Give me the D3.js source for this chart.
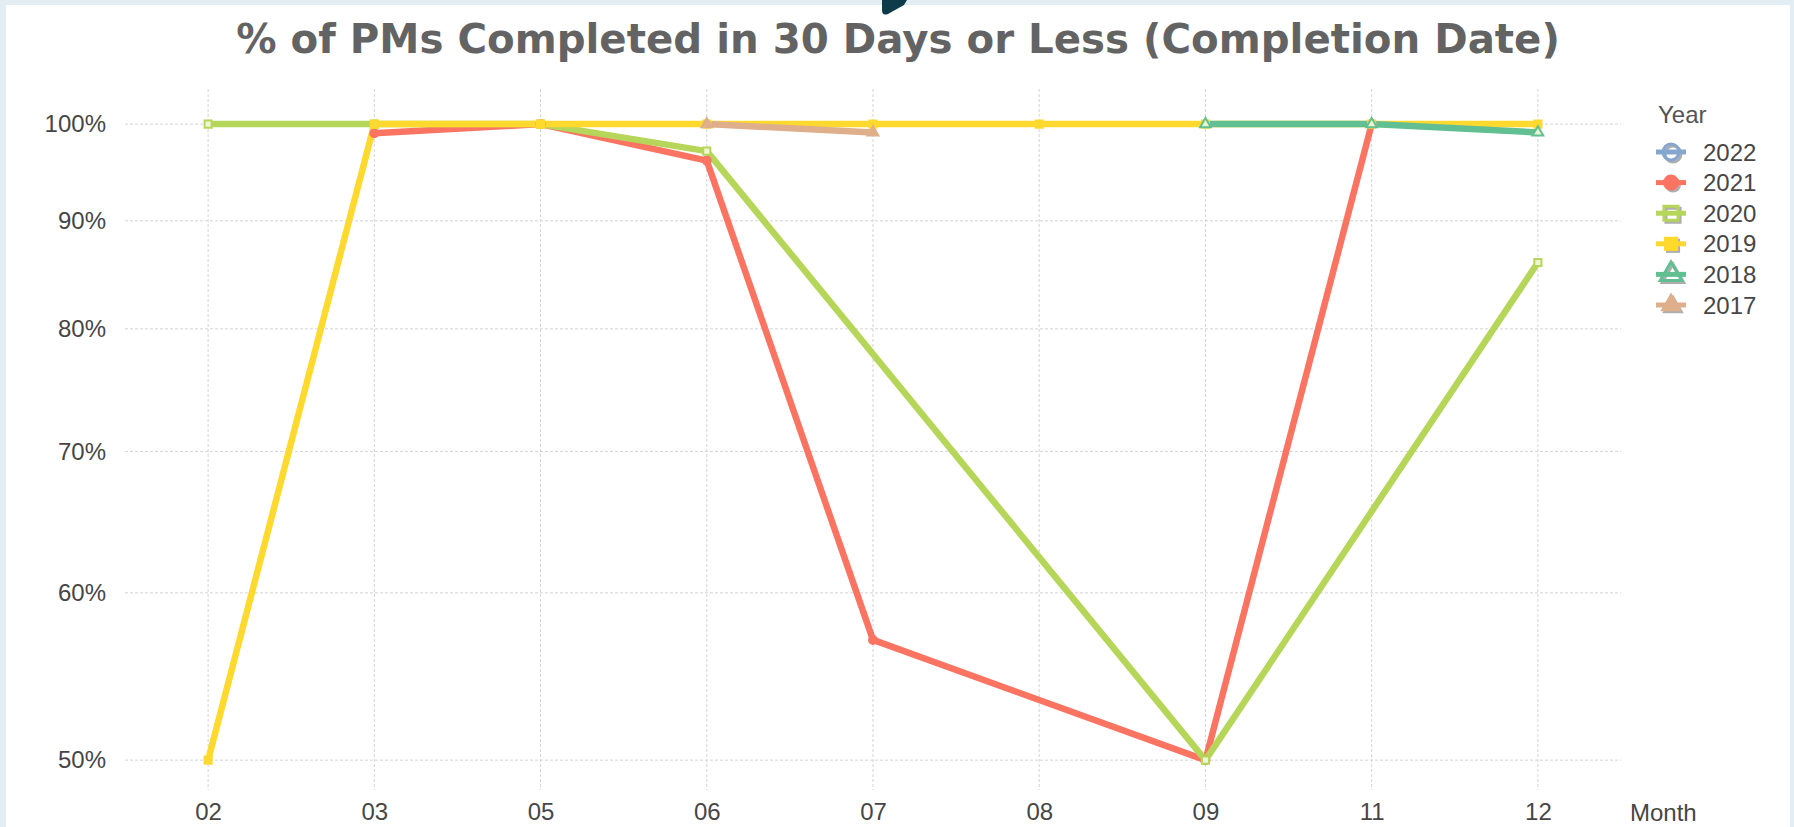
<!DOCTYPE html>
<html><head><meta charset="utf-8">
<script src="https://cdnjs.cloudflare.com/ajax/libs/d3/7.8.5/d3.min.js"></script>
<style>
html,body{margin:0;padding:0;background:#e3edf4;}
svg{display:block;}
</style></head>
<body>
<svg id="chart" width="1794" height="827"></svg>
<script>
// ---- data ----
const months = ["02","03","05","06","07","08","09","11","12"];
const years  = ["2022","2021","2020","2019","2018","2017"];
const v2022 = [null,null,null,null,null,null,null,null,null];
const v2021 = [null,0.990,1.000,0.961,0.570,null,0.500,1.000,null];
const v2020 = [1.000,1.000,1.000,0.971,null,null,0.500,null,0.860];
const v2019 = [0.500,1.000,1.000,1.000,1.000,1.000,1.000,1.000,1.000];
const v2018 = [null,null,null,null,null,null,1.000,1.000,0.991];
const v2017 = [null,null,null,1.000,0.991,null,null,null,null];
const yTicks = [0.5,0.6,0.7,0.8,0.9,1.0];
const titleText = "% of PMs Completed in 30 Days or Less (Completion Date)";

const seriesValues = {"2022":v2022,"2021":v2021,"2020":v2020,"2019":v2019,"2018":v2018,"2017":v2017};
const colors = {"2022":"#86a6cf","2021":"#fb7462","2020":"#b5d658","2019":"#ffd92e","2018":"#62bf91","2017":"#dfae8a"};
const lightFill = {"2022":"#e6eef7","2021":"#fb7462","2020":"#eef6d6","2019":"#ffd92e","2018":"#e9f5d0","2017":"#dfae8a"};
const shapes = {"2022":"circleOpen","2021":"circle","2020":"squareOpen","2019":"square","2018":"triangleOpen","2017":"triangle"};

(function(){
const svg = d3.select("#chart");
// panel
svg.append("rect").attr("x",6).attr("y",5).attr("width",1784).attr("height",822).attr("fill","#ffffff");
svg.append("path").attr("d","M882,0 L882,10 Q882,16 888,14 L904,5 L907,0 Z").attr("fill","#0e3b4a");

// title
svg.append("text").attr("x",898).attr("y",53).attr("text-anchor","middle")
  .attr("font-family","DejaVu Sans").attr("font-weight","bold").attr("font-size",40.3)
  .attr("fill","#636363").text(titleText);

const pLeft = 125, pRight = 1621, pTop = 89, pBottom = 790;
const x = d3.scalePoint().domain(months).range([pLeft,pRight]).padding(0.5);
const y = d3.scaleLog().domain([0.484,1.039]).range([pBottom,pTop]);

const font = "Liberation Sans, Arial, sans-serif";
// grid
const grid = svg.append("g");
grid.selectAll("line.h").data(yTicks).enter().append("line")
  .attr("x1",pLeft).attr("x2",pRight).attr("y1",d=>y(d)).attr("y2",d=>y(d))
  .attr("stroke","#d4d4d4").attr("stroke-width",1).attr("stroke-dasharray","3,2");
grid.selectAll("line.v").data(months).enter().append("line")
  .attr("x1",d=>x(d)).attr("x2",d=>x(d)).attr("y1",pTop).attr("y2",pBottom)
  .attr("stroke","#d4d4d4").attr("stroke-width",1).attr("stroke-dasharray","3,2");

// axes
const yAxis = svg.append("g").attr("transform",`translate(${pLeft},0)`)
  .call(d3.axisLeft(y).tickValues(yTicks).tickFormat(d=>Math.round(d*100)+"%").tickSize(0).tickPadding(19));
const xAxis = svg.append("g").attr("transform",`translate(0,${pBottom})`)
  .call(d3.axisBottom(x).tickSize(0).tickPadding(13));
[yAxis,xAxis].forEach(g=>{
  g.select(".domain").remove();
  g.selectAll("text").attr("font-family",font).attr("font-size",24).attr("fill","#464646");
});
svg.append("text").attr("x",1630).attr("y",821).attr("font-family",font).attr("font-size",24)
  .attr("fill","#464646").text("Month");

// lines
const line = d3.line().x(d=>x(d.m)).y(d=>y(d.v));
function symbolPath(shape,size){
  const t = shape.replace("Open","");
  const sym = t==="circle"?d3.symbolCircle:(t==="square"?d3.symbolSquare:d3.symbolTriangle);
  return d3.symbol().type(sym).size(size)();
}
const linesG = svg.append("g");
years.forEach(yr=>{
  const pts = months.map((m,i)=>({m:m,v:seriesValues[yr][i]})).filter(d=>d.v!=null);
  if(pts.length<1) return;
  linesG.append("path").datum(pts).attr("d",line).attr("fill","none")
    .attr("stroke",colors[yr]).attr("stroke-width",6.5).attr("stroke-linejoin","round").attr("stroke-linecap","round");
});
const markG = svg.append("g");
years.forEach(yr=>{
  const pts = months.map((m,i)=>({m:m,v:seriesValues[yr][i]})).filter(d=>d.v!=null);
  markG.selectAll(null).data(pts).enter().append("path")
    .attr("transform",d=>`translate(${x(d.m)},${y(d.v)})`)
    .attr("d",symbolPath(shapes[yr],50))
    .attr("fill",lightFill[yr]).attr("stroke",colors[yr]).attr("stroke-width",2);
});

// legend
const lg = svg.append("g");
lg.append("text").attr("x",1658).attr("y",123).attr("font-family",font).attr("font-size",24)
  .attr("fill","#555").text("Year");
years.forEach((yr,i)=>{
  const cy = 152 + i*30.6;
  const g = lg.append("g").attr("transform",`translate(1671,${cy})`);
  const shape = shapes[yr];
  const open = shape.includes("Open");
  g.append("path").attr("d",symbolPath(shape,200)).attr("transform","translate(2,2)")
    .attr("fill",open?"none":"#9a9a9a").attr("stroke","#9a9a9a").attr("stroke-width",open?3:0).attr("opacity",0.8);
  g.append("line").attr("x1",-15).attr("x2",15).attr("y1",0).attr("y2",0)
    .attr("stroke",colors[yr]).attr("stroke-width",5);
  g.append("path").attr("d",symbolPath(shape,200))
    .attr("fill",open?"none":colors[yr]).attr("stroke",colors[yr]).attr("stroke-width",open?3:0);
  lg.append("text").attr("x",1703).attr("y",cy+8.5).attr("font-family",font).attr("font-size",24)
    .attr("fill","#464646").text(yr);
});
})();
</script>
</body></html>
